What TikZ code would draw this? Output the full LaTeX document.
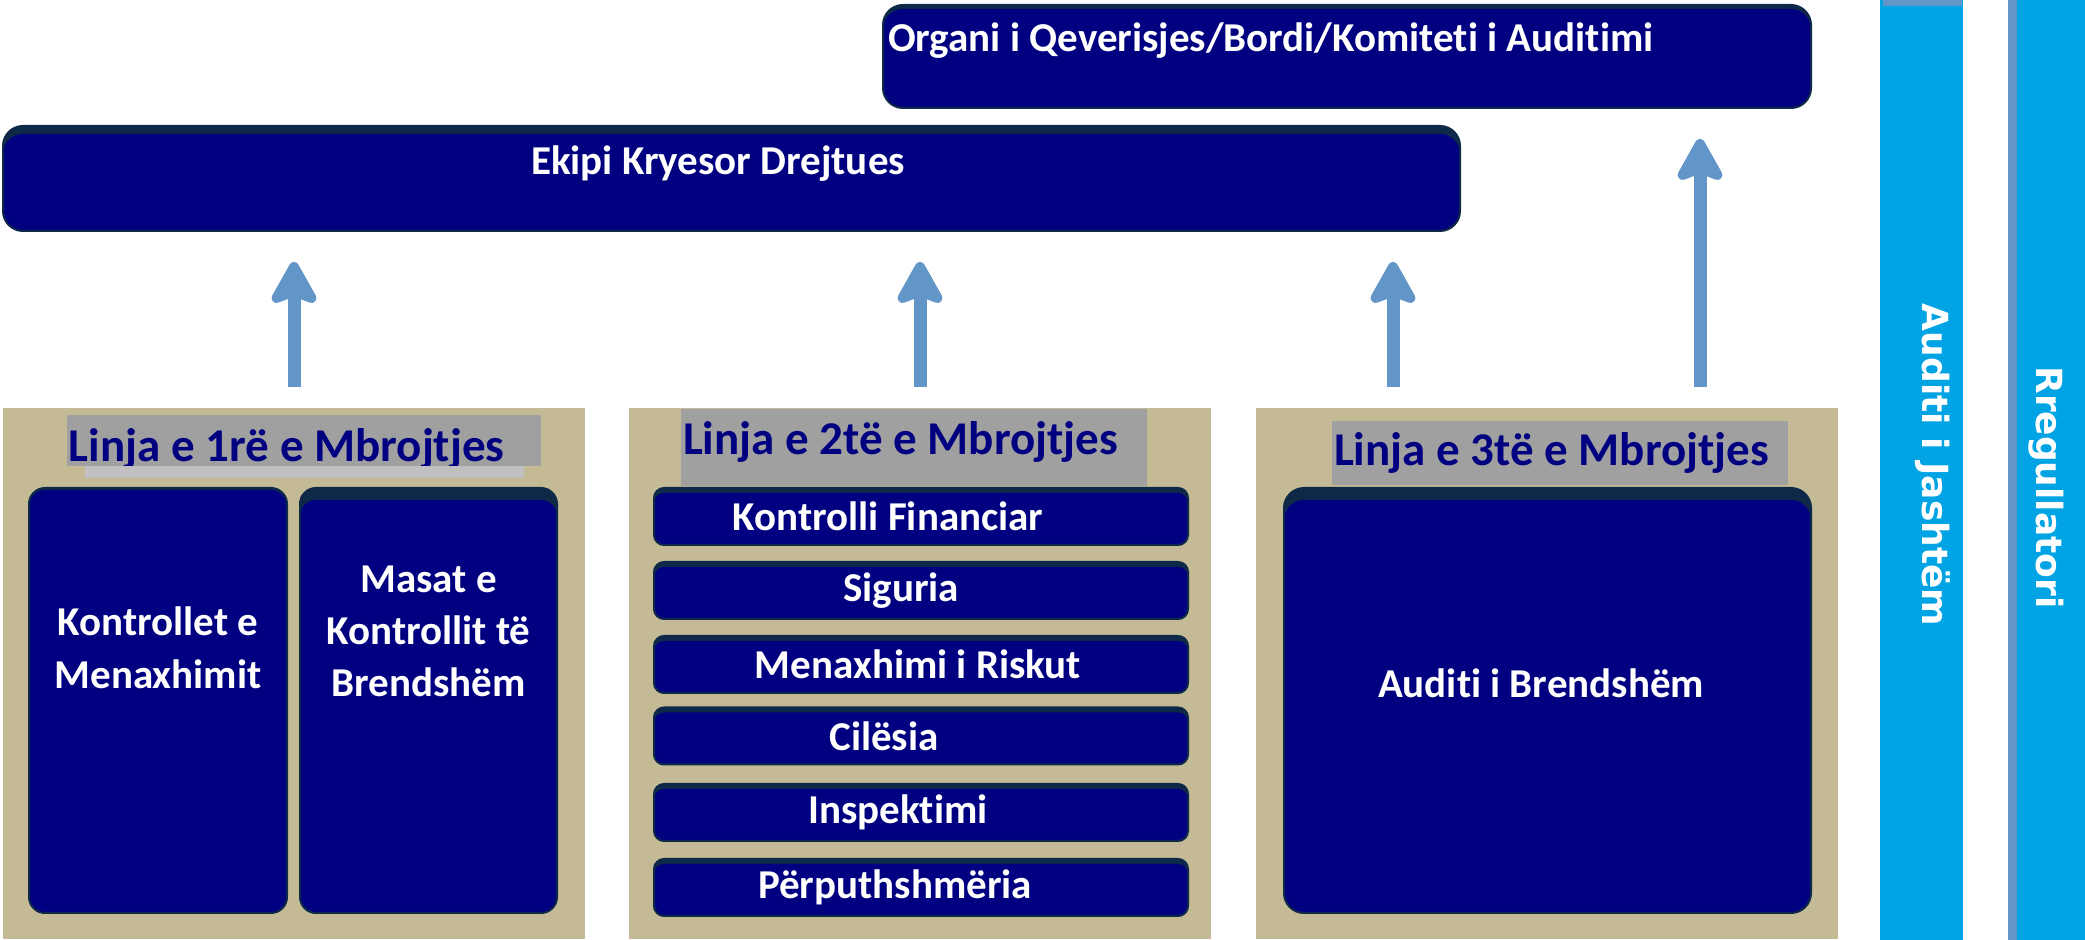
\documentclass[tikz,border=0pt]{standalone}
\usepackage{fontspec}
\setmainfont{Carlito}[Ligatures={NoCommon,NoRare,NoContextual}]
\newfontfamily\sidefont{DejaVu Sans}
\usepackage{xcolor}
\usetikzlibrary{positioning, arrows.meta}

\definecolor{navyfill}{RGB}{0,0,128}
\definecolor{boxedge}{RGB}{14,40,72}
\definecolor{panelbg}{RGB}{196,187,150}
\definecolor{headgray}{RGB}{160,160,160}
\definecolor{stripgray}{RGB}{192,192,192}
\definecolor{arrowblue}{RGB}{99,150,200}
\definecolor{sideblue}{RGB}{0,163,228}

\newcommand{\headline}[3]{\makebox[#1][l]{\hspace{1pt}\raisebox{#2}[\height][\depth]{#3}}}

\begin{document}
\begin{tikzpicture}[x=0.5pt, y=-0.5pt,
  every node/.style={inner sep=0pt, outer sep=0pt},
  navybox/.style={fill=boxedge, draw=boxedge, line width=1pt,
    path picture={\fill[navyfill] ([yshift=-#1]path picture bounding box.north west)
      rectangle (path picture bounding box.south east);}},
  boxtext/.style={text=white, align=center,
    font=\bfseries\fontsize{20.5}{26.5}\selectfont},
  panel/.style={fill=panelbg, minimum width=291pt, minimum height=265.5pt},
  heading/.style={fill=headgray, text=navyfill,
    font=\bfseries\fontsize{23.5}{28}\selectfont},
  bar/.style={navybox=2.5pt, rounded corners=5pt,
    minimum width=267pt, minimum height=28.5pt},
  sidebar/.style={fill=sideblue, minimum height=470pt},
  sidetext/.style={text=white, rotate=-90,
    font=\sidefont\bfseries\fontsize{18}{20}\selectfont},
  uparrow/.style={-{Stealth[length=25pt, width=27.5pt, inset=5pt, round]},
    line width=6.5pt, draw=arrowblue, shorten <=10.5pt, shorten >=15.5pt}]
\useasboundingbox (0,0) rectangle (2085,940);

\node[navybox=2pt, rounded corners=10pt, minimum width=464pt,
      minimum height=51.5pt] (organi) at (1347,56.5) {};
\node[boxtext, anchor=base west] (organi-txt)
  at ([xshift=2.5pt, yshift=-23.5pt]organi.north west)
  {Organi i Qeverisjes/Bordi/Komiteti i Auditimi};

\node[navybox=4pt, rounded corners=10pt, minimum width=728.5pt,
      minimum height=52.5pt] (ekipi) at (731.5,178.5) {};
\node[boxtext, anchor=base] (ekipi-txt)
  at ([xshift=-6.75pt, yshift=-24.5pt]ekipi.north) {Ekipi Kryesor Drejtues};

\node[panel] (line1) at (294,673.5) {};
\node[panel, right=22pt of line1] (line2) {};
\node[panel, right=22.5pt of line2] (line3) {};

\node[heading, minimum height=25.5pt, below=3.5pt of line1.north, xshift=5pt]
  (head1) {\headline{237pt}{-4pt}{Linja e 1rë e Mbrojtjes}};
\fill[stripgray] ([xshift=9pt]head1.south west)
  rectangle ([xshift=-8.5pt, yshift=-6pt]head1.south east);
\node[heading, minimum height=38.5pt, below=0.5pt of line2.north, xshift=-3pt]
  (head2) {\headline{233pt}{3pt}{Linja e 2të e Mbrojtjes}};
\node[heading, minimum height=32pt, below=6.5pt of line3.north, xshift=6.5pt]
  (head3) {\headline{228pt}{0pt}{Linja e 3të e Mbrojtjes}};

\node[navybox=1pt, rounded corners=8pt, minimum width=129pt,
      minimum height=212.5pt] (mgmt) at (158,700.5) {};
\node[navybox=6pt, rounded corners=8pt, minimum width=128.5pt,
      minimum height=212.5pt, right=6.5pt of mgmt] (icm) {};
\node[boxtext] (mgmt-txt) at ([yshift=26.5pt]mgmt.center) {Kontrollet e\\Menaxhimit};
\node[boxtext, font=\bfseries\fontsize{20.5}{26}\selectfont] (icm-txt)
  at ([yshift=34.5pt]icm.center) {Masat e\\Kontrollit të\\Brendshëm};

\foreach \i/\y/\dx/\txt in {1/516.5/-16.5/Kontrolli Financiar, 2/590.5/-10/Siguria,
    3/664.5/-1.5/Menaxhimi i Riskut, 4/736/-18.5/Cilësia,
    5/812.5/-11.5/Inspektimi, 6/887.5/-13/Përputhshmëria} {
  \node[bar] (bar\i) at (921,\y) {};
  \node[boxtext] (bar\i-txt) at ([xshift=\dx pt]bar\i.center) {\txt};
}

\node[navybox=6pt, rounded corners=10pt, minimum width=263.5pt,
      minimum height=212.5pt] (audit) at (1547.5,700.5) {};
\node[boxtext] (audit-txt) at ([xshift=-3.25pt, yshift=8.75pt]audit.center)
  {Auditi i Brendshëm};

\node[sidebar, minimum width=41.5pt] (extaudit) at (1921.5,470) {};
\fill[arrowblue] ([xshift=1.5pt]extaudit.north west)
  rectangle ([xshift=-0.5pt, yshift=-3pt]extaudit.north east);
\node[sidetext] (extaudit-txt) at ([xshift=5.75pt, yshift=2.5pt]extaudit.center)
  {Auditi i Jashtëm};

\node[sidebar, minimum width=38.5pt] (regulator) at (2046.5,470) {};
\fill[arrowblue] (regulator.north west) rectangle ([xshift=4.5pt]regulator.south west);
\node[sidetext] (regulator-txt) at ([yshift=-8.75pt]regulator.center) {Rregullatori};

\draw[uparrow] (line1.north) -- (line1.north |- ekipi.south);
\draw[uparrow] (line2.north) -- (line2.north |- ekipi.south);
\draw[uparrow] ([xshift=-77pt]line3.north) -- ([xshift=-77pt]line3.north |- ekipi.south);
\draw[uparrow] ([xshift=76.5pt]line3.north) -- ([xshift=76.5pt]line3.north |- organi.south);
\end{tikzpicture}
\end{document}
